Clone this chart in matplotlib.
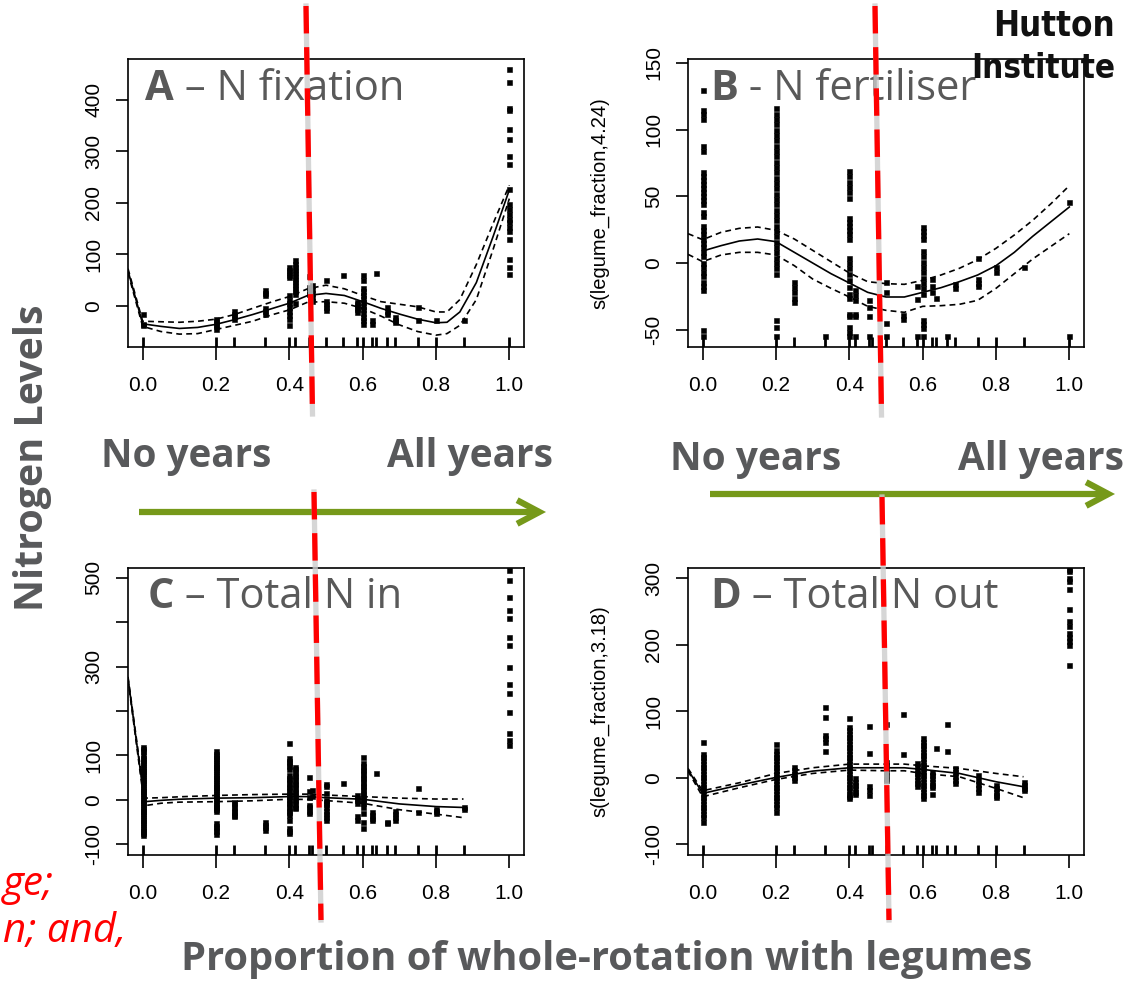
import numpy as np
import matplotlib
matplotlib.use('Agg')
import matplotlib.pyplot as plt
from matplotlib.lines import Line2D
from matplotlib.patches import FancyArrowPatch
from matplotlib.text import Annotation
from matplotlib import font_manager as fm

# ---------------- data ----------------
rug_pos = [0.0, 0.2, 0.25, 1/3, 0.4, 5/12, 5/11, 6/13, 0.5, 6/11, 7/12, 0.6,
           0.625, 7/11, 2/3, 11/16, 0.75, 0.8, 0.875, 1.0]
x_ticks = [0.0, 0.2, 0.4, 0.6, 0.8, 1.0]
x_tick_labels = ['0.0', '0.2', '0.4', '0.6', '0.8', '1.0']

# Panel A - N fixation
a_curve_x = [-0.04, 0.0, 0.05, 0.1, 0.15, 0.2, 0.25, 0.3, 0.35, 0.4, 0.45, 0.5, 0.55,
             0.6, 0.65, 0.7, 0.75, 0.8, 0.83, 0.865, 0.91, 0.956, 1.0]
a_fit = [68, -35, -40, -44, -42, -36, -27, -17, -6, 5, 20, 24, 20, 8, -5, -16, -26, -33,
         -32, -12, 45, 135, 225]
a_upper = [72, -30, -31, -32, -30, -26, -17, -5, 7, 18, 33, 40, 33, 20, 8, 3, -2, -12,
           -12, 12, 80, 160, 234]
a_lower = [64, -40, -50, -55, -54, -46, -38, -30, -18, -8, 7, 8, 5, -5, -20, -37, -50, -57,
           -54, -38, 12, 110, 208]
a_points = {
    0.0: [-15, -35, -38],
    0.2: [-25, -30, -35, -40, -45],
    0.25: [-10, -15, -20, -25],
    1/3: [30, 25, 20, -5, -10, -15],
    0.4: [75, 70, 65, 60, 55, 20, 12, 5, -2, -10, -18, -25, -38],
    5/12: [88, 82, 76, 70, 64, 58, 52, 46, 40, 34, 28, 23, 5],
    5/11: [57, 36, 28, 22],
    6/13: [40, 32, 25, 18, 10],
    0.5: [50, 10, 3, -3, -9],
    6/11: [59],
    7/12: [8, 3, -2, -7, -12],
    0.6: [60, 50, 35, 28, 21, 14, 7, 0, -7, -14, -21, -28, -35],
    0.625: [-28, -35],
    7/11: [64],
    2/3: [-3, -10, -15],
    11/16: [-22, -27, -32],
    0.75: [-3, -28],
    0.8: [-28],
    0.875: [-27],
    1.0: [460, 434, 383, 380, 344, 324, 291, 275, 227, 197, 188, 178, 169, 162, 153,
          146, 130, 91, 75, 62],
}

# Panel B - N fertiliser
b_curve_x = [-0.04, 0.0, 0.05, 0.1, 0.15, 0.2, 0.25, 0.3, 0.35, 0.4, 0.45, 0.5, 0.55,
             0.6, 0.65, 0.7, 0.75, 0.8, 0.85, 0.9, 0.95, 1.0]
b_fit = [np.nan, 9, 13, 16.5, 18, 16, 8, 0, -8, -15, -22, -25.5, -25.5, -22, -18.5,
         -14, -9, -2, 8, 20, 31, 42]
b_upper = [22, 17.5, 23, 26, 27, 24.5, 18, 9.5, 1, -7.5, -14, -15.5, -16, -13, -9, -4,
           2.5, 11, 21, 32, 44.5, 58]
b_lower = [6.5, 1, 6, 8, 8, 6, -2, -12, -19, -25.5, -32.5, -35.5, -37, -32.5, -32, -31,
           -28, -19, -8, 3, 12.5, 22]
b_points = {
    0.0: [130, 115, 112, 108, 88, 84, 68, 65, 62, 59, 56, 53, 50, 47, 44, 38, 35, 28, 25,
          22, 18, 15, 12, 8, 5, 0, -3, -7, -10, -14, -17, -20, -50, -55],
    0.2: [116, 112, 108, 104, 100, 96, 92, 88, 84, 80, 76, 72, 68, 64, 60, 56, 52, 48, 44,
          40, 36, 32, 28, 24, 20, 16, 12, 8, 4, 0, -4, -8, -43, -48, -55],
    0.25: [-14, -18, -22, -26, -29],
    1/3: [-55],
    0.4: [69, 65, 61, 57, 53, 49, 34, 31, 28, 25, 22, 18, 4, 0, -4, -8, -13, -18, -23,
          -26, -38, -40, -48, -52, -55],
    5/12: [-20, -24, -28, -38, -40, -55],
    5/11: [-28, -33, -40, -55],
    0.5: [-14, -22, -45, -55],
    6/11: [-39, -42],
    7/12: [-17, -27, -55],
    0.6: [27, 24, 21, 18, 9, 5, 1, -3, -7, -11, -15, -19, -23, -43, -46, -49, -55],
    0.625: [-12, -17, -22],
    7/11: [-26],
    2/3: [-55],
    11/16: [-16, -19],
    0.75: [4, -12, -15, -17],
    0.8: [-3, -7],
    0.875: [-3],
    1.0: [46, -55],
}

# Panel C - Total N in
c_curve_x = [-0.04, 0.005, 0.05, 0.1, 0.2, 0.3, 0.4, 0.45, 0.5, 0.6, 0.7, 0.8, 0.875]
c_fit = [274, -4, -1, 1.5, 4, 5, 7.5, 7.5, 5, 1.5, -9, -15, -17]
c_upper = [277, 4, 5, 7, 10, 12, 13, 13, 11, 7.5, 4, 2, 2]
c_lower = [271, -13, -7.5, -5, -4, -2, 1.5, 1, -1.5, -7.5, -22, -32, -40]
c_points = {
    0.0: [120, 115, 110, 100, 95, 90, 85, 80, 75, 70, 65, 60, 55, 50, 45, 40, 35, 30, 25,
          20, 15, 10, 5, 0, -5, -10, -15, -20, -25, -30, -35, -40, -45, -50, -55, -60,
          -65, -70, -75, -80],
    0.2: [109, 104, 99, 94, 89, 84, 79, 74, 69, 64, 59, 54, 49, 44, 39, 34, 29, 24, 19,
          14, 9, 4, -1, -6, -11, -16, -21, -26, -52, -58, -64, -70, -76],
    0.25: [-4, -10, -16, -22, -28, -34, -37],
    1/3: [-50, -56, -62, -68],
    0.4: [129, 94, 88, 82, 76, 70, 56, 50, 44, 38, 32, 26, 20, 14, 8, 2, -4, -10, -16,
          -22, -28, -34, -45, -64, -70, -75],
    5/12: [75, 69, 63, 57, 51, 45, 39, 33, 27, 21, 15, 9, 3, -3, -9, -15, -19],
    5/11: [51, 19, 7, -11, -17, -24, -30],
    6/13: [22, 8],
    0.5: [36, 31, 15, 0, -5, -10, -15, -26, -32, -38, -45],
    6/11: [37],
    7/12: [11, 5, 0, -7, -37, -45],
    0.6: [97, 82, 76, 70, 64, 58, 52, 46, 40, 34, 28, 22, 16, 10, 4, -2, -8, -15, -30,
          -49, -64],
    0.625: [-28, -34, -40, -45],
    7/11: [60],
    2/3: [-49, -53],
    11/16: [-26, -32, -38, -45],
    0.75: [26, -28],
    0.8: [-21, -26, -30],
    0.875: [-16, -21],
    1.0: [517, 496, 457, 427, 409, 367, 349, 300, 262, 240, 197, 150, 135, 124],
}

# Panel D - Total N out
d_curve_x = [-0.04, 0.0, 0.1, 0.2, 0.3, 0.4, 0.5, 0.55, 0.6, 0.7, 0.8, 0.875]
d_fit = [12, -23.5, -11, 0.5, 10, 15, 15, 15, 12.5, 6.5, -6, -13.5]
d_upper = [14, -19.5, -7.5, 6.5, 15, 20.5, 20.5, 20.5, 18, 14, 6.5, 1.5]
d_lower = [10, -28.5, -15, -2.5, 6.5, 11.5, 10.5, 10.5, 6.5, 1.5, -16, -30]
d_points = {
    0.0: [54, 36, 31, 26, 21, 16, 11, 6, 1, -4, -9, -14, -19, -24, -29, -34, -39, -44,
          -49, -54, -59, -66],
    0.2: [50, 41, 36, 31, 26, 21, 16, 11, 6, 1, -4, -9, -14, -19, -24, -29, -34, -39,
          -44, -51],
    0.25: [16, 11, 6, 1, -3.5],
    1/3: [107, 91, 64, 59, 54, 40],
    0.4: [89, 76, 71, 66, 61, 56, 51, 46, 41, 36, 31, 26, 21, 16, 11, 6, 1, -4, -9, -14,
          -19, -24, -28, -31],
    5/12: [-1, -6, -11, -16, -21, -24],
    5/11: [77, 37, -13, -19, -26],
    0.5: [81, 24, 19, 14, 9, 4, -1, -4],
    6/11: [96, 35],
    7/12: [22, 17, 12, 7, 2, -3, -8, -13],
    0.6: [59, 54, 49, 44, 39, 34, 29, 24, 19, 14, 9, 4, -1, -6, -11, -16, -21, -26, -31],
    0.625: [9, 4, -1, -6, -11, -14, -25],
    7/11: [44],
    2/3: [81, 40],
    11/16: [14, 8, 3, -3, -8],
    0.75: [4, -3, -9, -15, -21],
    0.8: [-11, -16, -21, -26, -29],
    0.875: [-6, -11, -16, -19],
    1.0: [314, 310, 300, 295, 283, 253, 235, 228, 218, 212, 205, 200, 169],
}

# ---------------- figure ----------------
W, H = 1134, 982
fig = plt.figure(figsize=(W / 100, H / 100), dpi=100)
fig.patch.set_facecolor('white')
renderer = fig.canvas.get_renderer()


def fx(x):
    return x / W


def fy(y):
    return 1 - y / H


def fit_width(t, target, vertical=False):
    bb = t.get_window_extent(renderer)
    cur = bb.height if vertical else bb.width
    t.set_fontsize(t.get_fontsize() * target / cur)


GREY = '#58595b'
TICKFONT = ['Liberation Sans', 'DejaVu Sans']
SLIDEFONT = ['Open Sans', 'DejaVu Sans']


def panel(px_box, ylim, yticks, yticklabels, cx, fit, up, lo, pts, rug, ylabel=None,
          ylabel_x=None):
    x0, y0, x1, y1 = px_box
    ax = fig.add_axes([fx(x0), fy(y1), (x1 - x0) / W, (y1 - y0) / H])
    ax.set_xlim(-0.04, 1.04)
    ax.set_ylim(*ylim)
    for s in ax.spines.values():
        s.set_linewidth(1.2)
    xs = [x for x, ys in pts.items() for _ in ys]
    ys = [y for _, yy in pts.items() for y in yy]
    ax.plot(xs, ys, 's', ms=3.6, mew=0.4, mec='black', color='black', zorder=3)
    ax.plot(cx, fit, '-', color='black', lw=1.2, zorder=4)
    ax.plot(cx, up, color='black', lw=1.2, dashes=(3.5, 2.5), zorder=4)
    ax.plot(cx, lo, color='black', lw=1.2, dashes=(3.5, 2.5), zorder=4)
    ax.vlines(rug, 0, 0.036, transform=ax.get_xaxis_transform(), color='black',
              lw=2.0, zorder=4)
    ax.set_xticks(x_ticks)
    ax.set_xticklabels(x_tick_labels, fontfamily=TICKFONT, fontsize=15)
    ax.set_yticks(yticks)
    ax.set_yticklabels(yticklabels, fontfamily=TICKFONT, fontsize=15, rotation=90,
                       va='center', ha='right')
    ax.tick_params(axis='x', length=9, width=1.2, pad=12)
    ax.tick_params(axis='y', length=9, width=1.2, pad=9)
    if ylabel:
        fig.text(fx(ylabel_x), fy((y0 + y1) / 2), ylabel, rotation=90, ha='center',
                 va='center', fontfamily=TICKFONT, fontsize=14.5)
    return ax


panel((128, 59, 524, 347), (-80, 479), [0, 100, 200, 300, 400],
      ['0', '100', '200', '300', '400'], a_curve_x, a_fit, a_upper, a_lower, a_points,
      rug_pos)
panel((688, 59, 1084, 347), (-63, 153), [-50, 0, 50, 100, 150],
      ['-50', '0', '50', '100', '150'], b_curve_x, b_fit, b_upper, b_lower, b_points,
      rug_pos, 's(legume_fraction,4.24)', 600)
panel((128, 568, 524, 855), (-124, 522), [-100, 0, 100, 200, 300, 400, 500],
      ['-100', '0', '100', '', '300', '', '500'], c_curve_x, c_fit, c_upper, c_lower,
      c_points, rug_pos[:-1])
panel((688, 568, 1084, 855), (-116, 315), [-100, 0, 100, 200, 300],
      ['-100', '0', '100', '200', '300'], d_curve_x, d_fit, d_upper, d_lower, d_points,
      rug_pos[:-1], 's(legume_fraction,3.18)', 600)

# panel titles (bold letter + regular text)
for letter, rest, (tx, ty) in [('A', ' \u2013 N fixation', (145, 100)),
                               ('B', ' - N fertiliser', (710, 100)),
                               ('C', ' \u2013 Total N in', (148, 608)),
                               ('D', ' \u2013 Total N out', (710, 608))]:
    t1 = fig.text(fx(tx), fy(ty), letter, fontfamily=SLIDEFONT, fontweight='bold',
                  fontsize=30, color='#595959', ha='left', va='baseline', zorder=5)
    fig.add_artist(Annotation(rest, xy=(1, 0), xycoords=t1, va='bottom', ha='left',
                              fontfamily=SLIDEFONT, fontsize=30, color='#595959',
                              zorder=5))

# slide texts
for txt, (xl, xr, yb) in [('No years', (101, 271, 467)), ('All years', (387, 553, 467)),
                          ('No years', (670, 841, 470)), ('All years', (958, 1124, 470))]:
    t = fig.text(fx(xl), fy(yb), txt, ha='left', va='baseline', fontfamily=SLIDEFONT,
                 fontweight='bold', fontsize=27, color=GREY)
    fit_width(t, xr - xl)

t = fig.text(fx(33), fy(458), 'Nitrogen Levels', rotation=90, ha='center', va='center',
             fontfamily=SLIDEFONT, fontweight='bold', fontsize=28, color=GREY)
fit_width(t, 306, vertical=True)
t = fig.text(fx(181), fy(970), 'Proportion of whole-rotation with legumes', ha='left',
             va='baseline', fontfamily=SLIDEFONT, fontweight='bold', fontsize=27,
             color=GREY)
fit_width(t, 849)

t = fig.text(fx(3), fy(895), 'ge;', ha='left', va='baseline', fontfamily=SLIDEFONT,
             style='italic', fontsize=25, color='#ff0000')
fit_width(t, 51)
fig.text(fx(3), fy(942), 'n; and,', ha='left', va='baseline', fontfamily=SLIDEFONT,
         style='italic', fontsize=t.get_fontsize(), color='#ff0000')

# condensed bold font for logo, if one is installed
logo_font = None
for f in fm.fontManager.ttflist:
    nm = (f.name + ' ' + f.fname).lower()
    if ('condensed' in nm or 'narrow' in nm) and f.weight in ('bold', 700, 'heavy'):
        logo_font = fm.FontProperties(fname=f.fname)
        break
if logo_font is None:
    logo_font = fm.FontProperties(family='Roboto', weight='bold')
t_h = fig.text(fx(1115), fy(35), 'Hutton', ha='right', va='baseline',
               fontproperties=logo_font, color='#111111', zorder=9)
t_h.set_fontsize(27)
fit_width(t_h, 122)
t_i = fig.text(fx(1115), fy(78), 'Institute', ha='right', va='baseline',
               fontproperties=logo_font, color='#111111', zorder=9)
t_i.set_fontsize(t_h.get_fontsize() * 0.95)
if t_i.get_window_extent(renderer).width > 150:
    fit_width(t_i, 150)

# green arrows
for (xa, ya), (xb, yb) in [((139, 512), (546, 512)), ((710, 494), (1115, 494))]:
    fig.add_artist(FancyArrowPatch((fx(xa), fy(ya)), (fx(xb), fy(yb)),
                                   transform=fig.transFigure,
                                   arrowstyle='->,head_length=16,head_width=8.5',
                                   lw=4.5, color='#76991a', shrinkA=0, shrinkB=0,
                                   capstyle='butt', joinstyle='miter', zorder=6))

# red dashed separators
for (xa, ya), (xb, yb) in [((306, 6), (312.5, 414)), ((314, 492), (321, 920)),
                           ((875, 6), (881.5, 415)), ((882, 497), (889, 920))]:
    fig.add_artist(Line2D([fx(xa), fx(xb)], [fy(ya), fy(yb)], transform=fig.transFigure,
                          color='#cccccc', lw=3.8, alpha=0.8, zorder=7))
    fig.add_artist(Line2D([fx(xa), fx(xb)], [fy(ya), fy(yb)], transform=fig.transFigure,
                          color='#ff0000', lw=3.8, dashes=(5.2, 2.6),
                          solid_capstyle='butt', dash_capstyle='butt', zorder=8))

fig.savefig('out.png', dpi=100, facecolor='white')
